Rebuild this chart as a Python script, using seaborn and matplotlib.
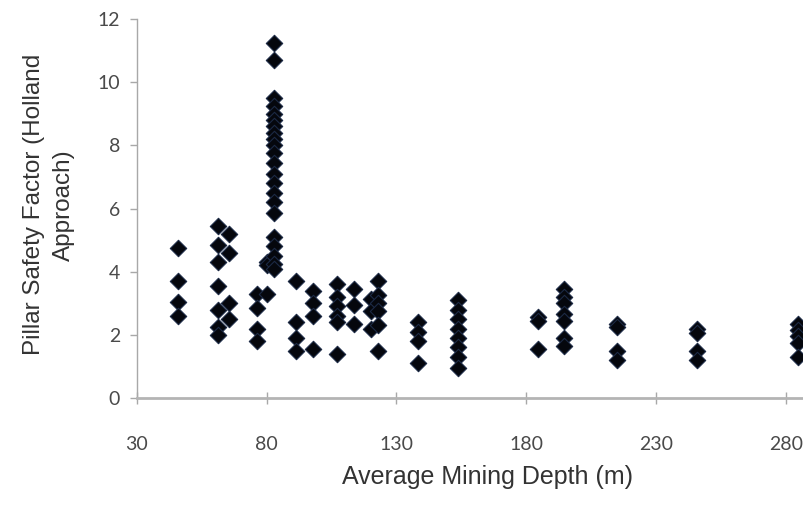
import pandas as pd
import seaborn as sns
import matplotlib.pyplot as plt

# Data: each depth group with its safety factors
depths = [46, 61.5, 65.5, 76.5, 80, 82.9, 91.5, 97.8, 107.3, 113.8, 120.2, 122.8,
          138.2, 153.7, 184.4, 194.5, 214.8, 245.7, 284.5]
factors = [
    [4.75, 3.7, 3.05, 2.6],
    [5.45, 4.85, 4.3, 3.55, 2.8, 2.25, 2.0],
    [5.2, 4.6, 3.0, 2.5],
    [3.3, 2.85, 2.2, 1.8],
    [4.3, 4.2, 3.3],
    [11.25, 10.7, 9.5, 9.25, 9.0, 8.8, 8.6, 8.4, 8.2, 8.0, 7.75, 7.45, 7.1, 6.8,
     6.5, 6.2, 5.85, 5.1, 4.8, 4.5, 4.25, 4.1],
    [3.7, 2.4, 1.9, 1.5],
    [3.4, 3.0, 2.6, 1.55],
    [3.6, 3.2, 2.9, 2.6, 2.4, 1.4],
    [3.45, 2.95, 2.35],
    [3.15, 2.75, 2.2],
    [3.7, 3.25, 3.0, 2.75, 2.3, 1.5],
    [2.4, 2.1, 1.8, 1.1],
    [3.1, 2.8, 2.5, 2.2, 1.9, 1.6, 1.3, 0.95],
    [2.55, 2.45, 1.55],
    [3.45, 3.2, 3.0, 2.65, 2.45, 1.9, 1.65],
    [2.35, 2.25, 1.5, 1.2],
    [2.2, 2.05, 1.5, 1.2],
    [2.35, 2.15, 1.95, 1.75, 1.3],
]

rows = []
for d, fs in zip(depths, factors):
    for f in fs:
        rows.append({"depth": d, "sf": f})
df = pd.DataFrame(rows)

sns.set_style("white")
plt.rcParams["font.family"] = ["Liberation Sans", "DejaVu Sans"]

fig = plt.figure(figsize=(8.04, 5.08), dpi=100)
ax = fig.add_axes([0.170, 0.2165, 0.830, 0.746])

sns.scatterplot(data=df, x="depth", y="sf", marker="D", s=70,
                color="#05070d", edgecolor="#1c2a45", linewidth=0.8, ax=ax, zorder=3)

ax.set_xlim(30, 287)
ax.set_ylim(0, 12)
ax.set_xticks([30, 80, 130, 180, 230, 280])
ax.set_yticks([0, 2, 4, 6, 8, 10, 12])

for s in ["top", "right"]:
    ax.spines[s].set_visible(False)
ax.spines["left"].set_color("#a8a8a8")
ax.spines["left"].set_linewidth(1.0)
ax.spines["bottom"].set_color("#b4b4b4")
ax.spines["bottom"].set_linewidth(2.0)

ax.tick_params(axis="y", direction="out", length=5, width=1, color="#a8a8a8",
               labelsize=14, labelcolor="#4a4a4a", pad=7, left=True)
ax.tick_params(axis="x", direction="inout", length=8, width=1, color="#a8a8a8",
               labelsize=14, labelcolor="#4a4a4a", pad=23, bottom=True)
for lab in ax.get_xticklabels() + ax.get_yticklabels():
    lab.set_family(["Lato", "DejaVu Sans"])

ax.set_xlabel("Average Mining Depth (m)", fontsize=18, color="#333333")
ax.xaxis.set_label_coords(0.5255, -0.178)
ax.set_ylabel("Pillar Safety Factor (Holland\nApproach)", fontsize=17.5,
              color="#333333", linespacing=1.5)
ax.yaxis.set_label_coords(-0.092, 0.51)

fig.savefig("out.png", dpi=100)
